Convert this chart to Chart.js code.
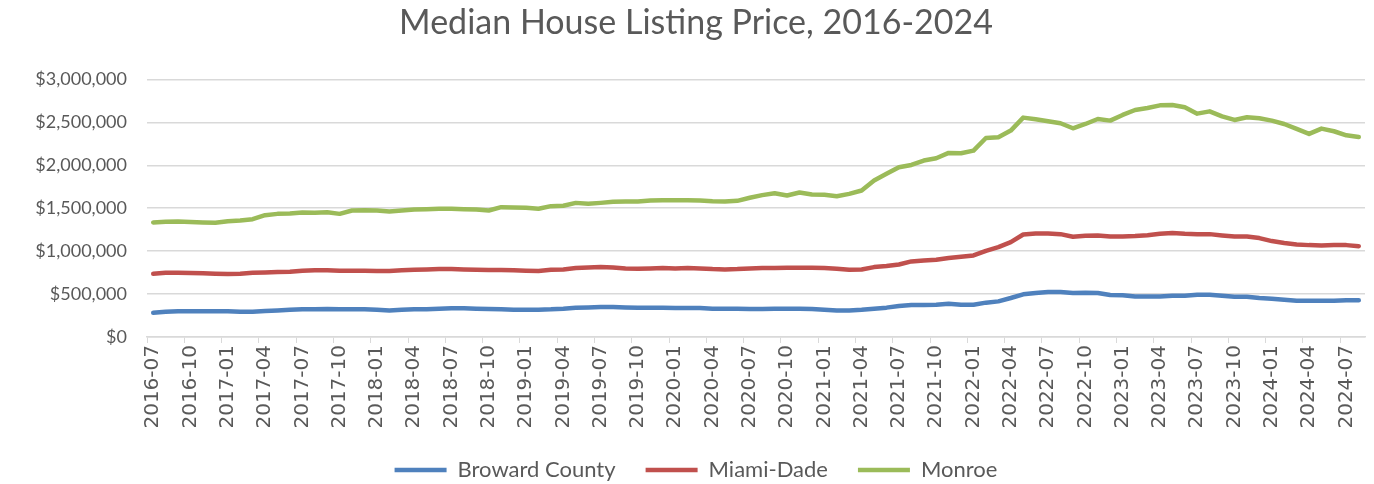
<!DOCTYPE html>
<html>
<head>
<meta charset="utf-8">
<script src="https://cdn.jsdelivr.net/npm/chart.js@4.4.1/dist/chart.umd.min.js"></script>
<style>
  html, body { margin: 0; padding: 0; background: #fff; }
</style>
</head>
<body>
<canvas id="chart" width="1374" height="484"></canvas>
<script>
// monthly, 2016-07 .. 2024-08
const months = [
  "2016-07", "2016-08", "2016-09", "2016-10", "2016-11", "2016-12",
  "2017-01", "2017-02", "2017-03", "2017-04", "2017-05", "2017-06", "2017-07", "2017-08", "2017-09", "2017-10", "2017-11", "2017-12",
  "2018-01", "2018-02", "2018-03", "2018-04", "2018-05", "2018-06", "2018-07", "2018-08", "2018-09", "2018-10", "2018-11", "2018-12",
  "2019-01", "2019-02", "2019-03", "2019-04", "2019-05", "2019-06", "2019-07", "2019-08", "2019-09", "2019-10", "2019-11", "2019-12",
  "2020-01", "2020-02", "2020-03", "2020-04", "2020-05", "2020-06", "2020-07", "2020-08", "2020-09", "2020-10", "2020-11", "2020-12",
  "2021-01", "2021-02", "2021-03", "2021-04", "2021-05", "2021-06", "2021-07", "2021-08", "2021-09", "2021-10", "2021-11", "2021-12",
  "2022-01", "2022-02", "2022-03", "2022-04", "2022-05", "2022-06", "2022-07", "2022-08", "2022-09", "2022-10", "2022-11", "2022-12",
  "2023-01", "2023-02", "2023-03", "2023-04", "2023-05", "2023-06", "2023-07", "2023-08", "2023-09", "2023-10", "2023-11", "2023-12",
  "2024-01", "2024-02", "2024-03", "2024-04", "2024-05", "2024-06", "2024-07", "2024-08",
];

const seriesNames = ["Broward County", "Miami-Dade", "Monroe"];

const broward = [
  283000, 295000, 299000, 299000, 299000, 299000, 299000, 295000, 295000, 303000, 310000, 318000,
  322000, 322000, 326000, 322000, 322000, 322000, 318000, 310000, 318000, 322000, 322000, 330000,
  334000, 334000, 330000, 326000, 322000, 318000, 318000, 318000, 322000, 330000, 342000, 345000,
  349000, 349000, 345000, 342000, 342000, 342000, 338000, 338000, 338000, 330000, 330000, 330000,
  326000, 326000, 330000, 330000, 330000, 326000, 318000, 310000, 310000, 318000, 330000, 342000,
  361000, 373000, 373000, 376000, 388000, 376000, 376000, 400000, 415000, 454000, 497000, 512000,
  524000, 524000, 512000, 516000, 512000, 489000, 485000, 473000, 473000, 473000, 481000, 481000,
  493000, 493000, 481000, 469000, 469000, 454000, 446000, 435000, 423000, 423000, 423000, 423000,
  427000, 427000,
];

const miamiDade = [
  737000, 748000, 748000, 745000, 741000, 737000, 733000, 737000, 748000, 752000, 756000, 760000,
  772000, 776000, 776000, 772000, 772000, 772000, 768000, 768000, 776000, 783000, 787000, 791000,
  791000, 787000, 783000, 780000, 780000, 776000, 772000, 768000, 783000, 787000, 803000, 810000,
  814000, 810000, 799000, 795000, 799000, 803000, 799000, 803000, 799000, 791000, 787000, 791000,
  799000, 803000, 803000, 806000, 806000, 806000, 803000, 795000, 783000, 787000, 814000, 826000,
  845000, 880000, 892000, 899000, 919000, 934000, 950000, 1004000, 1047000, 1105000, 1194000, 1206000,
  1206000, 1198000, 1167000, 1179000, 1183000, 1171000, 1171000, 1175000, 1186000, 1202000, 1210000, 1202000,
  1198000, 1198000, 1183000, 1171000, 1171000, 1152000, 1117000, 1094000, 1078000, 1070000, 1066000, 1070000,
  1070000, 1058000,
];

const monroe = [
  1334000, 1341000, 1345000, 1338000, 1334000, 1330000, 1349000, 1357000, 1372000, 1419000, 1434000, 1438000,
  1450000, 1446000, 1454000, 1434000, 1473000, 1477000, 1473000, 1462000, 1473000, 1485000, 1489000, 1493000,
  1493000, 1489000, 1485000, 1473000, 1512000, 1508000, 1504000, 1493000, 1524000, 1528000, 1562000, 1551000,
  1562000, 1574000, 1578000, 1578000, 1590000, 1593000, 1593000, 1593000, 1590000, 1582000, 1578000, 1586000,
  1621000, 1652000, 1675000, 1648000, 1683000, 1659000, 1656000, 1640000, 1667000, 1706000, 1822000, 1900000,
  1977000, 2004000, 2055000, 2082000, 2144000, 2140000, 2171000, 2318000, 2326000, 2404000, 2555000, 2535000,
  2512000, 2489000, 2431000, 2481000, 2539000, 2520000, 2586000, 2644000, 2667000, 2698000, 2702000, 2675000,
  2601000, 2628000, 2570000, 2528000, 2559000, 2547000, 2520000, 2481000, 2423000, 2365000, 2427000, 2396000,
  2349000, 2330000,
];

const seriesColors = ["#4f81bd", "#c0504d", "#9bbb59"];

const textColor = "#595959";
const gridColor = "#d9d9d9";

function lineDataset(label, data, color) {
  return {
    label,
    data,
    borderColor: color,
    backgroundColor: color,
    borderWidth: 4.5,
    borderCapStyle: "round",
    borderJoinStyle: "round",
    pointRadius: 0,
    pointHoverRadius: 0,
    tension: 0,
    fill: false,
  };
}

new Chart(document.getElementById("chart"), {
  type: "line",
  data: {
    labels: months,
    datasets: [
      lineDataset(seriesNames[0], broward, seriesColors[0]),
      lineDataset(seriesNames[1], miamiDade, seriesColors[1]),
      lineDataset(seriesNames[2], monroe, seriesColors[2]),
    ],
  },
  options: {
    responsive: false,
    animation: false,
    layout: { padding: { left: 27, right: 9, top: 0, bottom: -7 } },
    plugins: {
      title: {
        display: true,
        text: "Median House Listing Price, 2016-2024",
        color: textColor,
        font: { family: "Lato", size: 34, weight: "normal" },
        padding: { top: 3, bottom: 35.6 },
      },
      legend: {
        position: "bottom",
        labels: {
          usePointStyle: true,
          pointStyle: "line",
          pointStyleWidth: 52,
          color: textColor,
          font: { family: "Lato", size: 22 },
          padding: 30,
        },
      },
      tooltip: { enabled: false },
    },
    scales: {
      x: {
        offset: true,
        grid: {
          offset: true,
          drawOnChartArea: false,
          tickLength: 6,
          tickColor: (ctx) => (ctx.index % 3 === 0 ? gridColor : "rgba(0,0,0,0)"),
        },
        border: { color: gridColor, width: 1.5 },
        ticks: {
          autoSkip: false,
          maxRotation: 90,
          minRotation: 90,
          color: textColor,
          font: { family: "DejaVu Sans", size: 20 },
          padding: 2,
          callback(value, index) {
            return index % 3 === 0 ? this.getLabelForValue(value) : "";
          },
        },
        afterFit(scale) {
          scale.height = 92;
          scale.paddingLeft = 0;
          scale.paddingRight = 0;
        },
      },
      y: {
        min: 0,
        max: 3000000,
        ticks: {
          stepSize: 500000,
          color: textColor,
          font: { family: "Lato", size: 18 },
          padding: 20,
          callback: (v) => "$" + Number(v).toLocaleString("en-US"),
        },
        grid: { color: gridColor, lineWidth: 1.5, drawTicks: false },
        border: { display: false },
        afterFit(scale) {
          scale.width = 120;
        },
      },
    },
  },
});
</script>
</body>
</html>
